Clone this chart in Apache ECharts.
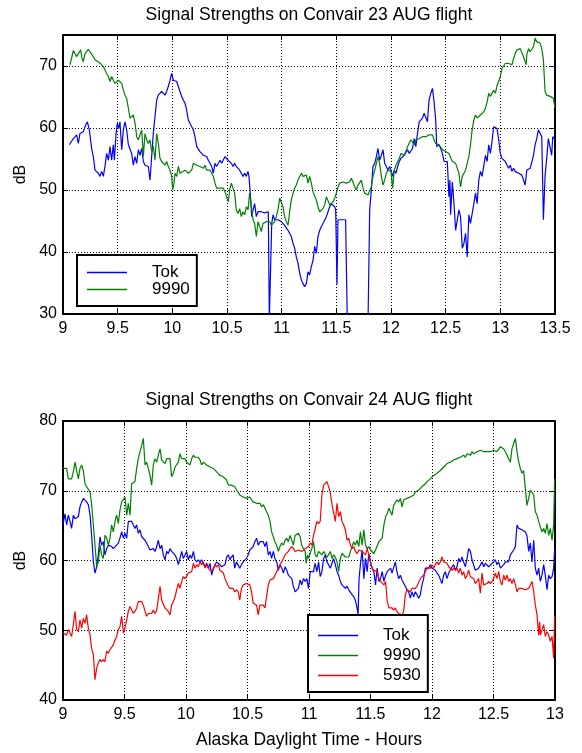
<!DOCTYPE html>
<html>
<head>
<meta charset="utf-8">
<script src="https://cdn.jsdelivr.net/npm/echarts@6/dist/echarts.min.js"></script>
<style>
html,body{margin:0;padding:0;background:#fff;}
#chart{width:582px;height:753px;}
</style>
</head>
<body>
<div id="chart"></div>
<script>
// ---------- Tick settings ----------
const xTicks23 = {min: 9, max: 13.5, interval: 0.5};
const yTicks23 = {min: 30, max: 75, interval: 10};
const xTicks24 = {min: 9, max: 13, interval: 0.5};
const yTicks24 = {min: 40, max: 80, interval: 10};

const title23 = 'Signal Strengths on Convair 23 AUG flight';
const title24 = 'Signal Strengths on Convair 24 AUG flight';
const yName = 'dB';
const xName = 'Alaska Daylight Time - Hours';
const names23 = ['Tok', '9990'];
const names24 = ['Tok', '9990', '5930'];

// ---------- 23 AUG: [hour, dB] ----------
const tok23 = [
[9.058,57.3],[9.095,58.3],[9.125,58.9],[9.140,57.5],[9.155,59.1],[9.186,59.4],[9.201,60.2],[9.223,61.0],[9.241,59.7],[9.262,56.7],[9.277,55.4],[9.293,53.2],[9.323,52.7],[9.338,52.2],[9.354,53.0],[9.369,52.2],[9.384,53.8],[9.399,55.9],[9.415,54.8],[9.430,57.0],[9.445,54.8],[9.460,57.3],[9.470,54.8],[9.485,59.1],[9.497,60.8],[9.509,59.9],[9.521,61.0],[9.537,56.5],[9.552,59.7],[9.567,61.0],[9.582,59.7],[9.598,57.3],[9.613,57.5],[9.628,55.9],[9.643,54.0],[9.659,55.4],[9.674,54.3],[9.689,56.5],[9.704,55.6],[9.720,56.7],[9.735,54.6],[9.750,54.0],[9.765,54.3],[9.780,53.8],[9.796,51.6],[9.811,55.4],[9.826,59.1],[9.841,61.8],[9.857,64.5],[9.872,65.3],[9.887,65.1],[9.902,65.9],[9.918,66.1],[9.933,65.3],[9.948,65.9],[9.963,66.7],[9.979,67.7],[9.994,68.8],[10.009,67.7],[10.024,67.7],[10.040,67.5],[10.055,66.7],[10.070,66.4],[10.085,65.1],[10.101,64.5],[10.116,64.0],[10.131,62.9],[10.146,61.3],[10.162,61.6],[10.177,60.2],[10.192,59.7],[10.207,58.6],[10.223,57.0],[10.238,56.7],[10.253,56.2],[10.284,55.6],[10.314,55.4],[10.329,54.8],[10.345,54.6],[10.360,53.8],[10.375,52.7],[10.390,54.3],[10.405,53.8],[10.436,54.8],[10.451,54.3],[10.466,54.6],[10.482,55.4],[10.497,55.6],
[10.509,54.8],[10.524,54.6],[10.540,54.3],[10.555,53.8],[10.570,54.3],[10.585,53.8],[10.601,53.5],[10.616,53.2],[10.631,52.7],[10.646,52.2],[10.662,52.7],[10.677,52.2],[10.692,53.0],[10.701,52.2],[10.713,49.5],[10.726,45.7],[10.738,46.8],[10.753,47.8],[10.768,45.7],[10.784,46.5],[10.799,46.8],[10.814,46.5],[10.829,46.2],[10.845,46.3],[10.860,46.5],[10.878,46.5],[10.887,29],[10.899,29],[10.909,44.6],[10.921,46.0],[10.936,45.2],[10.951,44.9],[10.966,45.2],[10.982,44.9],[10.997,44.9],[11.012,44.6],[11.027,44.3],[11.043,44.1],[11.058,43.5],[11.073,43.3],[11.088,42.5],[11.104,41.4],[11.119,40.6],[11.134,39.2],[11.149,38.2],[11.165,36.6],[11.180,35.5],[11.195,34.9],[11.210,34.4],[11.226,34.9],[11.241,36.8],[11.256,36.3],[11.271,37.6],[11.287,38.7],[11.302,40.9],[11.317,39.8],[11.332,42.5],[11.348,43.5],[11.363,44.1],[11.378,44.6],[11.393,44.9],[11.409,45.7],[11.424,46.5],[11.439,47.3],[11.454,47.8],[11.470,47.6],[11.485,47.3],[11.494,46.8],[11.506,34.7],[11.515,45.2],[11.530,45.3],[11.561,45.2],[11.585,45.2],[11.600,29],[11.650,29],[11.700,29],[11.750,29],[11.790,29],[11.805,46.8],[11.820,50.0],[11.835,53.8],[11.851,54.3],[11.866,55.4],[11.881,56.7],[11.896,54.8],[11.912,55.6],[11.927,56.5],[11.942,54.3],[11.957,53.8],[11.973,53.2],[11.988,53.8],
[12.000,53.2],[12.015,52.2],[12.030,53.2],[12.045,52.7],[12.061,53.8],[12.076,54.6],[12.091,55.1],[12.106,55.4],[12.121,55.6],[12.136,55.4],[12.152,56.5],[12.167,55.9],[12.182,56.2],[12.197,56.7],[12.212,58.3],[12.227,57.0],[12.242,59.1],[12.258,61.0],[12.273,60.8],[12.288,61.6],[12.303,62.4],[12.318,62.6],[12.333,61.0],[12.348,64.5],[12.364,65.6],[12.379,66.4],[12.394,64.2],[12.409,61.3],[12.418,57.0],[12.439,57.3],[12.455,56.7],[12.470,55.9],[12.485,54.6],[12.500,54.3],[12.515,54.6],[12.530,48.9],[12.539,51.6],[12.545,46.0],[12.561,51.3],[12.576,47.8],[12.591,43.5],[12.606,43.8],[12.621,46.8],[12.636,45.7],[12.652,40.6],[12.667,41.4],[12.682,43.0],[12.697,39.2],[12.712,46.0],[12.727,44.6],[12.742,44.9],[12.758,47.8],[12.773,49.5],[12.788,47.8],[12.803,51.6],[12.818,53.0],[12.833,52.2],[12.848,53.8],[12.864,55.6],[12.879,54.6],[12.894,57.3],[12.909,55.9],[12.924,57.8],[12.939,60.2],[12.955,60.5],[12.970,59.9],[12.985,58.1],[13.000,55.9],[13.015,55.1],[13.030,54.8],[13.045,54.6],[13.061,54.3],[13.076,53.5],[13.091,54.0],[13.106,53.0],[13.121,53.5],[13.136,53.0],[13.152,53.2],[13.167,52.7],[13.182,53.0],[13.197,52.4],[13.212,52.2],[13.227,50.8],[13.242,53.2],[13.258,53.0],[13.273,53.5],[13.288,53.8],[13.303,55.6],[13.318,57.3],[13.333,58.3],[13.348,59.7],[13.364,59.9],[13.379,58.6],[13.394,45.2],[13.409,52.2],[13.424,55.1],[13.439,58.3],[13.455,58.1],[13.470,55.6],[13.479,58.6],[13.491,58.6],[13.500,58.1]
];

const s9990_23 = [
[9.064,70.2],[9.095,72.5],[9.110,72.3],[9.125,71.5],[9.140,72.0],[9.162,72.6],[9.174,71.2],[9.186,70.7],[9.201,72.0],[9.216,72.3],[9.232,72.7],[9.247,72.3],[9.262,72.0],[9.277,71.5],[9.293,71.0],[9.308,70.9],[9.338,70.5],[9.354,70.4],[9.369,69.9],[9.384,69.4],[9.399,68.8],[9.415,68.3],[9.430,67.5],[9.445,68.3],[9.460,67.7],[9.476,67.2],[9.491,66.9],[9.506,67.7],[9.521,67.5],[9.537,67.2],[9.552,66.1],[9.567,65.3],[9.582,64.8],[9.598,64.5],[9.613,61.6],[9.628,61.8],[9.643,62.1],[9.659,60.8],[9.674,58.6],[9.689,58.1],[9.704,57.8],[9.720,59.7],[9.735,55.4],[9.750,59.1],[9.765,58.1],[9.780,57.5],[9.796,58.1],[9.811,56.2],[9.826,57.0],[9.841,54.8],[9.857,59.1],[9.872,57.5],[9.887,55.1],[9.902,54.6],[9.918,54.3],[9.933,54.0],[9.948,54.6],[9.963,53.8],[9.979,53.2],[9.994,52.2],[10.003,50.0],[10.015,51.1],[10.024,52.7],[10.040,52.2],[10.055,53.8],[10.070,52.7],[10.085,52.7],[10.116,53.2],[10.146,52.7],[10.177,53.2],[10.192,54.3],[10.207,54.6],[10.223,54.0],[10.238,54.3],[10.253,53.8],[10.268,53.5],[10.284,53.5],[10.299,54.0],[10.314,53.2],[10.329,53.5],[10.345,53.2],[10.360,52.7],[10.375,52.2],[10.390,51.1],[10.405,50.3],[10.421,50.0],[10.436,50.3],[10.451,50.0],[10.466,50.3],[10.482,49.7],[10.497,49.5],[10.512,48.1],
[10.524,50.0],[10.540,51.1],[10.555,51.3],[10.570,49.5],[10.585,46.8],[10.601,46.2],[10.616,47.0],[10.631,45.7],[10.646,46.5],[10.662,46.0],[10.677,47.3],[10.692,46.8],[10.707,49.5],[10.723,47.3],[10.738,45.2],[10.753,44.6],[10.768,42.5],[10.784,44.9],[10.799,44.1],[10.814,43.3],[10.829,44.6],[10.845,44.6],[10.860,44.9],[10.875,44.6],[10.890,44.9],[10.905,44.3],[10.921,44.6],[10.936,44.9],[10.951,45.7],[10.966,46.8],[10.982,48.7],[10.997,48.4],[11.012,47.3],[11.027,45.7],[11.043,44.9],[11.058,44.3],[11.073,46.5],[11.088,48.4],[11.104,49.5],[11.119,50.3],[11.134,50.8],[11.149,51.6],[11.165,51.9],[11.180,52.7],[11.195,52.2],[11.210,51.9],[11.226,52.4],[11.241,51.1],[11.256,52.2],[11.271,51.1],[11.287,49.7],[11.302,49.5],[11.317,48.4],[11.332,47.3],[11.348,46.5],[11.363,46.8],[11.378,47.0],[11.393,47.6],[11.409,48.9],[11.424,49.2],[11.439,47.6],[11.454,47.8],[11.470,48.1],[11.485,48.7],[11.500,49.5],[11.515,50.5],[11.530,51.1],[11.561,51.3],[11.591,51.1],[11.622,51.3],[11.637,51.9],[11.652,51.3],[11.668,50.5],[11.683,50.0],[11.698,50.8],[11.713,51.1],[11.729,51.6],[11.744,50.3],[11.759,49.5],[11.774,49.7],[11.790,49.2],[11.805,48.9],[11.820,50.5],[11.835,52.2],[11.851,53.2],[11.866,54.3],[11.881,55.4],[11.896,54.3],[11.912,52.2],[11.927,50.8],[11.942,51.6],[11.957,52.7],[11.973,53.2],[11.988,53.0],
[12.000,53.0],[12.015,50.3],[12.030,53.2],[12.045,54.0],[12.061,54.3],[12.076,55.1],[12.091,55.9],[12.106,55.6],[12.121,55.6],[12.136,55.6],[12.152,57.0],[12.167,56.7],[12.182,58.1],[12.197,57.8],[12.212,57.3],[12.227,58.1],[12.242,58.1],[12.258,58.3],[12.273,58.3],[12.288,58.6],[12.303,58.3],[12.318,58.6],[12.333,58.6],[12.348,58.9],[12.364,58.6],[12.379,58.9],[12.394,58.1],[12.409,57.5],[12.424,57.3],[12.439,57.3],[12.455,57.0],[12.470,56.5],[12.485,56.2],[12.500,56.2],[12.515,55.9],[12.530,55.9],[12.545,55.6],[12.561,54.6],[12.576,54.3],[12.591,54.3],[12.606,54.3],[12.621,52.7],[12.636,50.5],[12.652,52.2],[12.667,52.7],[12.682,53.2],[12.697,54.3],[12.712,55.4],[12.727,57.3],[12.742,59.7],[12.758,61.3],[12.773,62.1],[12.788,61.6],[12.803,61.8],[12.818,62.1],[12.833,62.4],[12.848,62.6],[12.864,63.2],[12.879,64.2],[12.894,65.6],[12.909,65.1],[12.924,65.3],[12.939,66.1],[12.955,65.6],[12.970,66.9],[12.985,67.5],[13.000,68.3],[13.015,69.6],[13.030,69.9],[13.045,70.4],[13.061,70.7],[13.076,70.4],[13.091,70.7],[13.106,70.2],[13.121,71.2],[13.136,72.0],[13.152,72.6],[13.167,72.6],[13.182,72.8],[13.197,72.6],[13.212,71.5],[13.227,70.7],[13.236,70.2],[13.242,71.8],[13.258,72.8],[13.273,72.3],[13.288,72.0],[13.303,73.1],[13.318,74.5],[13.333,73.9],[13.348,74.2],[13.364,73.7],[13.379,72.8],[13.394,71.0],[13.409,65.9],[13.424,65.3],[13.439,65.1],[13.455,65.1],[13.470,65.3],[13.485,64.8],[13.500,63.2]
];

// ---------- 24 AUG: [hour, dB] ----------
const tok24 = [
[9.000,65.1],[9.016,66.7],[9.030,65.1],[9.043,66.5],[9.057,65.6],[9.070,64.6],[9.084,66.5],[9.098,66.0],[9.111,66.0],[9.125,66.3],[9.138,67.7],[9.152,68.4],[9.165,68.9],[9.179,69.1],[9.192,68.4],[9.206,68.0],[9.220,66.5],[9.233,63.6],[9.247,59.8],[9.260,58.2],[9.274,59.1],[9.287,60.8],[9.301,63.4],[9.314,62.2],[9.328,62.7],[9.341,60.8],[9.355,61.7],[9.369,62.2],[9.382,62.0],[9.396,62.0],[9.409,61.7],[9.423,61.7],[9.436,62.2],[9.450,62.5],[9.463,63.2],[9.477,64.1],[9.491,63.2],[9.504,63.9],[9.518,63.2],[9.531,65.6],[9.545,65.8],[9.558,65.6],[9.572,65.1],[9.585,64.6],[9.599,65.1],[9.612,63.9],[9.626,64.4],[9.640,63.4],[9.653,63.2],[9.667,62.9],[9.680,62.7],[9.694,62.0],[9.707,61.5],[9.721,61.3],[9.734,61.7],[9.748,61.3],[9.762,62.0],[9.775,62.9],[9.789,61.7],[9.802,62.2],[9.816,60.8],[9.829,60.1],[9.843,61.3],[9.856,61.0],[9.870,61.7],[9.883,61.3],[9.897,61.3],[9.911,60.8],[9.924,60.3],[9.938,59.4],[9.951,60.3],[9.965,61.3],[9.978,60.3],[9.992,60.8],[10.005,61.3],[10.019,60.1],[10.033,60.8],[10.046,60.3],[10.060,61.3],[10.073,60.1],[10.087,59.8],[10.100,60.1],[10.114,59.8],[10.127,60.1],[10.141,60.3],[10.154,59.1],[10.168,59.6],[10.182,58.9],[10.195,59.6],[10.209,57.9],[10.222,58.9],[10.236,58.9],[10.249,59.8],[10.263,59.6],[10.276,59.4],[10.290,59.1],[10.304,59.1],[10.317,59.4],[10.331,60.5],[10.344,60.8],[10.358,60.1],
[10.369,60.5],[10.383,60.8],[10.396,58.9],[10.410,59.8],[10.424,59.6],[10.437,58.9],[10.451,59.4],[10.465,59.8],[10.478,59.8],[10.492,60.3],[10.505,60.8],[10.519,61.5],[10.533,61.7],[10.546,62.0],[10.560,62.7],[10.574,63.2],[10.587,62.2],[10.601,62.7],[10.614,62.5],[10.628,62.7],[10.642,62.0],[10.655,62.7],[10.669,60.8],[10.683,61.3],[10.696,60.3],[10.710,61.3],[10.723,60.3],[10.737,59.8],[10.751,58.6],[10.764,59.4],[10.778,58.9],[10.792,58.2],[10.805,59.1],[10.819,58.6],[10.832,57.9],[10.846,57.7],[10.860,57.4],[10.873,56.3],[10.887,55.5],[10.901,55.3],[10.914,56.0],[10.928,57.2],[10.941,56.5],[10.955,57.4],[10.969,57.0],[10.982,57.4],[10.996,56.0],[11.010,58.4],[11.023,58.6],[11.037,58.4],[11.050,59.6],[11.064,58.4],[11.078,59.8],[11.091,57.7],[11.105,58.4],[11.119,60.3],[11.132,60.8],[11.146,59.8],[11.159,59.4],[11.173,58.9],[11.187,59.6],[11.200,60.3],[11.214,59.4],[11.228,58.4],[11.241,57.9],[11.255,57.0],[11.268,56.5],[11.282,56.3],[11.296,56.0],[11.309,56.3],[11.323,55.8],[11.337,56.0],[11.350,55.1],[11.364,54.8],[11.377,54.3],[11.391,53.2],[11.399,52.2],[11.407,57.4],[11.418,59.4],[11.432,61.5],[11.446,57.4],[11.459,60.3],[11.473,58.4],[11.486,61.0],[11.500,59.8],[11.514,58.9],[11.527,58.4],[11.541,56.5],[11.554,58.9],[11.568,57.0],[11.582,57.4],[11.595,58.4],[11.609,57.0],[11.623,57.9],[11.636,58.4],[11.650,58.6],[11.664,58.9],
[11.675,58.2],[11.688,58.4],[11.702,59.8],[11.715,58.4],[11.729,57.4],[11.743,57.9],[11.756,57.2],[11.770,57.0],[11.783,56.3],[11.797,55.8],[11.810,55.5],[11.824,54.6],[11.837,55.5],[11.851,54.8],[11.864,55.5],[11.878,55.1],[11.892,54.6],[11.905,55.1],[11.919,56.5],[11.932,57.4],[11.946,58.9],[11.959,59.1],[11.973,58.9],[11.986,59.4],[12.000,58.9],[12.014,59.1],[12.027,58.6],[12.041,58.2],[12.054,57.9],[12.068,57.9],[12.081,56.7],[12.095,57.9],[12.108,58.4],[12.122,57.4],[12.136,58.2],[12.149,58.4],[12.163,59.1],[12.176,59.4],[12.190,58.6],[12.203,59.1],[12.217,60.3],[12.230,59.8],[12.244,60.5],[12.257,59.8],[12.271,59.1],[12.285,60.3],[12.298,61.7],[12.312,61.3],[12.325,60.1],[12.339,60.3],[12.352,58.6],[12.366,58.4],[12.379,58.9],[12.393,59.1],[12.407,59.8],[12.420,59.1],[12.434,59.6],[12.447,59.4],[12.461,59.1],[12.474,58.9],[12.488,59.6],[12.501,59.8],[12.515,60.1],[12.528,59.4],[12.542,59.8],[12.556,58.9],[12.569,59.1],[12.583,59.4],[12.596,59.8],[12.610,59.6],[12.623,59.8],[12.637,60.8],[12.650,61.0],[12.664,61.5],[12.678,62.0],[12.691,65.1],[12.705,64.6],[12.718,64.8],[12.732,64.4],[12.745,64.6],[12.759,64.1],[12.772,63.6],[12.786,61.3],[12.799,62.5],[12.813,59.8],[12.827,62.9],[12.840,58.9],[12.854,57.9],[12.867,58.9],[12.881,57.0],[12.894,57.9],[12.908,59.4],[12.921,57.9],[12.935,55.8],[12.949,57.9],[12.962,57.4],[12.976,57.7],[12.989,58.9],[12.997,61.7]
];

const s9990_24 = [
[9.000,73.2],[9.016,73.3],[9.030,73.2],[9.043,71.7],[9.057,71.5],[9.070,71.7],[9.084,72.7],[9.098,74.1],[9.111,72.9],[9.125,71.7],[9.138,73.2],[9.152,73.7],[9.165,72.9],[9.179,71.0],[9.192,70.6],[9.206,70.8],[9.220,69.8],[9.233,68.0],[9.247,65.1],[9.260,62.2],[9.274,59.1],[9.287,59.8],[9.301,62.2],[9.314,60.8],[9.328,60.3],[9.341,63.6],[9.355,63.2],[9.369,62.2],[9.382,63.2],[9.396,65.1],[9.409,64.1],[9.423,65.6],[9.436,66.5],[9.450,65.3],[9.463,67.2],[9.477,68.4],[9.491,68.2],[9.504,69.1],[9.518,66.5],[9.531,68.2],[9.545,66.5],[9.558,71.0],[9.572,71.0],[9.585,71.3],[9.599,73.2],[9.612,74.6],[9.626,75.6],[9.640,76.5],[9.653,77.5],[9.667,73.7],[9.680,74.1],[9.694,73.2],[9.707,72.2],[9.721,70.8],[9.734,73.7],[9.748,74.6],[9.762,74.1],[9.775,75.1],[9.789,76.0],[9.802,74.4],[9.816,74.6],[9.829,73.9],[9.843,74.6],[9.856,74.4],[9.870,74.6],[9.883,72.0],[9.897,72.5],[9.911,73.4],[9.924,73.2],[9.938,74.1],[9.951,75.3],[9.965,74.6],[9.978,74.8],[9.992,74.6],[10.005,74.1],[10.019,74.1],[10.033,73.7],[10.046,74.6],[10.060,75.1],[10.073,74.8],[10.087,74.6],[10.100,74.8],[10.114,74.4],[10.127,73.7],[10.141,74.1],[10.154,74.1],[10.168,73.7],[10.195,73.4],[10.222,73.2],[10.249,72.7],[10.276,72.2],[10.304,72.0],[10.331,71.5],[10.344,70.8],[10.358,71.0],
[10.369,70.8],[10.383,71.0],[10.396,70.6],[10.410,70.1],[10.424,69.8],[10.437,69.4],[10.451,69.6],[10.465,69.1],[10.478,69.1],[10.492,68.9],[10.505,68.9],[10.519,69.1],[10.533,68.7],[10.546,68.4],[10.560,68.2],[10.574,68.2],[10.587,68.0],[10.601,68.2],[10.614,67.7],[10.628,68.0],[10.642,67.5],[10.655,67.0],[10.669,66.5],[10.683,65.6],[10.696,64.1],[10.710,63.9],[10.723,62.7],[10.737,62.2],[10.751,61.3],[10.764,62.0],[10.778,62.5],[10.792,62.2],[10.805,62.9],[10.819,63.2],[10.832,62.7],[10.846,63.6],[10.860,62.9],[10.873,62.2],[10.887,63.6],[10.901,63.4],[10.914,63.9],[10.928,63.4],[10.941,62.2],[10.955,61.7],[10.969,61.3],[10.977,59.6],[10.988,60.8],[10.996,60.3],[11.010,60.5],[11.023,61.7],[11.037,62.7],[11.050,60.8],[11.064,60.5],[11.078,61.3],[11.091,61.5],[11.105,60.8],[11.119,61.3],[11.132,61.5],[11.146,60.5],[11.159,60.8],[11.173,61.3],[11.187,60.3],[11.200,60.8],[11.214,60.5],[11.228,59.8],[11.241,58.4],[11.255,60.3],[11.268,61.0],[11.282,60.8],[11.296,60.5],[11.309,60.3],[11.323,60.5],[11.337,61.3],[11.350,62.0],[11.364,62.7],[11.377,62.2],[11.391,62.9],[11.405,62.0],[11.418,64.1],[11.432,62.2],[11.446,64.4],[11.459,62.2],[11.473,61.7],[11.486,62.0],[11.500,61.5],[11.514,61.3],[11.527,61.0],[11.541,61.5],[11.554,61.3],[11.568,62.7],[11.582,62.7],[11.595,63.2],[11.609,65.1],[11.623,66.3],[11.636,66.7],[11.650,67.5],[11.664,67.7],
[11.675,66.5],[11.688,67.9],[11.702,67.7],[11.715,68.7],[11.729,68.4],[11.743,68.9],[11.756,67.7],[11.770,68.7],[11.797,68.9],[11.824,69.1],[11.851,69.4],[11.864,69.8],[11.878,69.6],[11.892,70.1],[11.905,70.3],[11.919,70.6],[11.932,70.8],[11.946,71.0],[11.959,71.3],[11.973,71.5],[11.986,71.7],[12.014,72.2],[12.041,72.5],[12.068,72.9],[12.095,73.4],[12.122,73.9],[12.149,74.1],[12.176,74.4],[12.203,74.6],[12.230,74.8],[12.257,75.1],[12.271,74.8],[12.285,75.3],[12.312,75.1],[12.325,75.6],[12.339,75.3],[12.366,75.6],[12.393,75.8],[12.407,76.0],[12.420,75.6],[12.447,75.6],[12.474,75.6],[12.501,75.8],[12.528,75.6],[12.556,76.3],[12.569,76.5],[12.583,76.0],[12.596,75.6],[12.610,75.1],[12.623,74.6],[12.637,74.1],[12.650,76.0],[12.664,76.8],[12.678,77.5],[12.691,75.6],[12.705,74.1],[12.718,73.2],[12.732,72.5],[12.745,72.9],[12.759,70.3],[12.772,67.9],[12.786,68.9],[12.799,70.1],[12.813,70.3],[12.827,69.4],[12.840,67.0],[12.854,66.5],[12.867,65.6],[12.881,64.8],[12.894,64.1],[12.908,64.6],[12.921,63.9],[12.935,65.3],[12.949,63.6],[12.962,64.6],[12.976,62.9],[12.989,65.1],[12.997,71.7]
];

const s5930_24 = [
[9.000,49.6],[9.016,49.8],[9.030,49.3],[9.043,50.1],[9.057,49.6],[9.070,49.1],[9.084,50.8],[9.098,52.7],[9.111,50.1],[9.125,49.8],[9.138,51.5],[9.152,50.3],[9.165,51.7],[9.179,51.0],[9.192,52.2],[9.206,50.3],[9.220,49.3],[9.233,47.4],[9.247,46.5],[9.260,42.9],[9.274,44.6],[9.287,45.3],[9.301,45.8],[9.314,45.5],[9.328,45.8],[9.341,45.5],[9.355,47.0],[9.369,46.7],[9.382,47.2],[9.396,47.4],[9.409,47.9],[9.423,48.6],[9.436,49.1],[9.450,50.1],[9.463,50.5],[9.477,52.0],[9.491,49.6],[9.504,50.3],[9.518,51.5],[9.531,52.7],[9.545,53.4],[9.558,53.2],[9.572,52.4],[9.585,52.7],[9.599,53.2],[9.612,54.1],[9.626,54.3],[9.640,54.1],[9.653,53.6],[9.667,52.7],[9.680,52.0],[9.694,52.4],[9.707,52.2],[9.721,52.4],[9.734,52.9],[9.748,52.4],[9.762,52.9],[9.775,52.7],[9.789,56.3],[9.802,54.3],[9.816,54.1],[9.829,53.2],[9.843,53.4],[9.856,52.7],[9.870,52.2],[9.883,53.6],[9.897,54.1],[9.911,54.8],[9.924,55.8],[9.938,56.7],[9.951,56.0],[9.965,57.0],[9.978,57.7],[9.992,57.4],[10.005,57.7],[10.019,58.2],[10.033,58.4],[10.046,58.4],[10.060,59.6],[10.073,58.9],[10.087,59.4],[10.100,59.1],[10.114,59.8],[10.127,59.4],[10.141,59.8],[10.154,58.9],[10.168,59.4],[10.182,58.9],[10.195,58.6],[10.209,58.4],[10.222,58.6],[10.236,59.4],[10.249,59.1],[10.263,59.4],[10.276,58.6],[10.290,58.4],[10.304,58.2],[10.317,57.4],[10.331,57.2],[10.344,56.3],[10.358,56.0],
[10.369,56.0],[10.383,56.0],[10.396,55.5],[10.410,55.8],[10.424,55.5],[10.437,54.3],[10.451,56.0],[10.465,56.5],[10.478,56.7],[10.492,56.7],[10.505,56.7],[10.519,56.5],[10.533,55.5],[10.546,53.9],[10.560,54.1],[10.574,53.6],[10.587,52.2],[10.601,53.6],[10.614,53.4],[10.628,53.6],[10.642,53.2],[10.655,53.2],[10.669,56.5],[10.683,57.2],[10.696,57.0],[10.710,57.4],[10.723,57.9],[10.737,58.4],[10.751,58.9],[10.764,59.4],[10.778,59.8],[10.792,60.3],[10.805,60.8],[10.819,61.0],[10.832,61.3],[10.846,61.7],[10.860,62.0],[10.873,61.7],[10.887,61.3],[10.901,61.5],[10.914,61.5],[10.928,61.3],[10.941,61.3],[10.955,61.3],[10.969,61.7],[10.982,61.5],[10.996,62.0],[11.010,62.5],[11.023,62.2],[11.037,63.6],[11.050,63.6],[11.064,65.6],[11.078,65.3],[11.091,65.6],[11.105,69.4],[11.119,70.8],[11.132,70.8],[11.146,71.3],[11.159,71.3],[11.173,69.8],[11.187,68.0],[11.200,68.2],[11.214,65.6],[11.228,68.2],[11.241,66.3],[11.255,67.0],[11.268,65.6],[11.282,65.1],[11.296,64.4],[11.309,62.9],[11.323,63.2],[11.337,62.2],[11.350,61.7],[11.364,62.0],[11.377,61.3],[11.391,61.0],[11.405,61.5],[11.418,61.7],[11.432,61.3],[11.446,61.5],[11.459,60.8],[11.473,61.7],[11.486,60.8],[11.500,59.8],[11.514,58.9],[11.527,58.6],[11.541,58.6],[11.554,58.4],[11.568,57.4],[11.582,57.0],[11.595,57.0],[11.609,56.5],[11.623,57.0],[11.636,54.1],[11.650,53.2],[11.664,53.2],
[11.675,53.2],[11.688,52.9],[11.702,53.2],[11.715,52.7],[11.729,52.4],[11.743,52.4],[11.756,52.2],[11.770,52.7],[11.783,55.1],[11.797,55.8],[11.810,56.0],[11.824,55.5],[11.837,56.0],[11.851,55.8],[11.864,56.0],[11.878,56.3],[11.892,56.5],[11.905,57.4],[11.919,57.4],[11.932,57.9],[11.946,58.4],[11.959,58.9],[11.973,59.1],[11.986,58.9],[12.000,59.4],[12.014,58.9],[12.027,59.4],[12.041,59.8],[12.054,59.4],[12.068,59.8],[12.081,60.5],[12.095,59.8],[12.108,59.8],[12.122,59.6],[12.136,59.1],[12.149,58.9],[12.163,58.6],[12.176,58.9],[12.190,58.6],[12.203,58.9],[12.217,58.2],[12.230,58.9],[12.244,57.9],[12.257,58.4],[12.271,57.4],[12.285,57.9],[12.298,58.6],[12.312,57.7],[12.325,57.9],[12.339,57.4],[12.352,56.7],[12.366,57.0],[12.379,57.4],[12.393,55.3],[12.407,58.2],[12.420,56.5],[12.434,56.3],[12.447,56.7],[12.461,57.0],[12.474,56.7],[12.488,57.0],[12.501,57.4],[12.515,58.2],[12.528,57.4],[12.542,58.4],[12.556,57.0],[12.569,56.5],[12.583,57.9],[12.596,57.2],[12.610,57.9],[12.623,57.0],[12.637,57.4],[12.650,56.7],[12.664,57.4],[12.678,56.5],[12.691,55.5],[12.705,56.0],[12.718,55.8],[12.732,56.0],[12.745,56.0],[12.759,55.8],[12.772,56.0],[12.786,56.0],[12.799,56.5],[12.813,57.0],[12.827,55.5],[12.840,53.6],[12.854,52.2],[12.867,49.3],[12.875,51.2],[12.881,49.3],[12.894,49.1],[12.908,50.8],[12.921,49.1],[12.935,49.8],[12.949,49.3],[12.962,48.4],[12.976,49.1],[12.989,46.0],[12.997,52.0]
];

// ---------- Chart ----------
const FONT = "'Liberation Sans', Arial, sans-serif";
const BLUE = '#0000ff', GREEN = '#008000', RED = '#ff0000';
const chart = echarts.init(document.getElementById('chart'), null, {renderer: 'canvas'});

const axisLineStyle = {show: true, onZero: false, lineStyle: {color: '#000', width: 2}};
const tickStyle = {show: true, inside: true, length: 5, lineStyle: {color: '#000', width: 1}};
const labelStyle = {color: '#000', fontSize: 16, fontFamily: FONT};
const gridLine = {show: true, lineStyle: {color: '#000', width: 1, type: [1, 2]}};
const LEGEND_LINE = 'path://M0,0H40V1.5H0Z';

function xAxes(grid, t, withName) {
  const main = Object.assign({
    type: 'value', gridIndex: grid, position: 'bottom',
    axisLine: axisLineStyle, axisTick: tickStyle,
    axisLabel: Object.assign({margin: 7}, labelStyle),
    splitLine: gridLine
  }, t);
  if (withName) {
    Object.assign(main, {name: xName, nameLocation: 'middle', nameGap: 31,
      nameTextStyle: {color: '#000', fontSize: 17.5, fontFamily: FONT}});
  }
  const top = Object.assign({
    type: 'value', gridIndex: grid, position: 'top',
    axisLine: axisLineStyle, axisTick: tickStyle,
    axisLabel: {show: false}, splitLine: {show: false}
  }, t);
  return [main, top];
}
function yAxes(grid, t) {
  const main = Object.assign({
    type: 'value', gridIndex: grid, position: 'left',
    axisLine: axisLineStyle, axisTick: tickStyle,
    axisLabel: Object.assign({margin: 6, showMaxLabel: t.max % t.interval === 0}, labelStyle),
    splitLine: gridLine,
    name: yName, nameLocation: 'middle', nameGap: 32, nameRotate: 90,
    nameTextStyle: {color: '#000', fontSize: 16, fontFamily: FONT}
  }, t);
  const right = Object.assign({
    type: 'value', gridIndex: grid, position: 'right',
    axisLine: axisLineStyle, axisTick: tickStyle,
    axisLabel: {show: false}, splitLine: {show: false}
  }, t);
  return [main, right];
}
function line(name, data, color, xi, yi) {
  return {
    type: 'line', name: name, data: data, xAxisIndex: xi, yAxisIndex: yi,
    symbol: 'none', showSymbol: false, animation: false,
    lineStyle: {color: color, width: 1.2}, itemStyle: {color: color},
    emphasis: {disabled: true}
  };
}
function legendBox(names, left, top, gap, padding) {
  return {
    data: names.map(n => ({name: n, icon: LEGEND_LINE})),
    orient: 'vertical', left: left, top: top,
    itemWidth: 40, itemHeight: 16, itemGap: gap, padding: padding,
    symbolKeepAspect: true,
    backgroundColor: '#fff', borderColor: '#000', borderWidth: 2, selectedMode: false,
    itemStyle: {borderWidth: 0},
    textStyle: {fontSize: 17, color: '#000', fontFamily: FONT, padding: [0, 0, 0, 20]}
  };
}

const option = {
  animation: false,
  backgroundColor: '#fff',
  textStyle: {fontFamily: FONT},
  title: [
    {text: title23, left: 309, top: 6, textAlign: 'center', padding: 0,
     textStyle: {fontSize: 17.5, fontWeight: 'normal', color: '#000', fontFamily: FONT}},
    {text: title24, left: 309, top: 391, textAlign: 'center', padding: 0,
     textStyle: {fontSize: 17.5, fontWeight: 'normal', color: '#000', fontFamily: FONT}}
  ],
  grid: [
    {left: 63, top: 35, width: 492, height: 279},
    {left: 63, top: 421, width: 492, height: 279}
  ],
  xAxis: [].concat(xAxes(0, xTicks23, false), xAxes(1, xTicks24, true)),
  yAxis: [].concat(yAxes(0, yTicks23), yAxes(1, yTicks24)),
  legend: [
    legendBox(names23, 77, 255, 0, [9, 7, 8, 10]),
    legendBox(names24, 308, 615, 3, [12, 7, 8, 10])
  ],
  series: [
    line('Tok', tok23, BLUE, 0, 0),
    line('9990', s9990_23, GREEN, 0, 0),
    line('Tok', tok24, BLUE, 2, 2),
    line('9990', s9990_24, GREEN, 2, 2),
    line('5930', s5930_24, RED, 2, 2)
  ]
};
chart.setOption(option);
</script>
</body>
</html>
